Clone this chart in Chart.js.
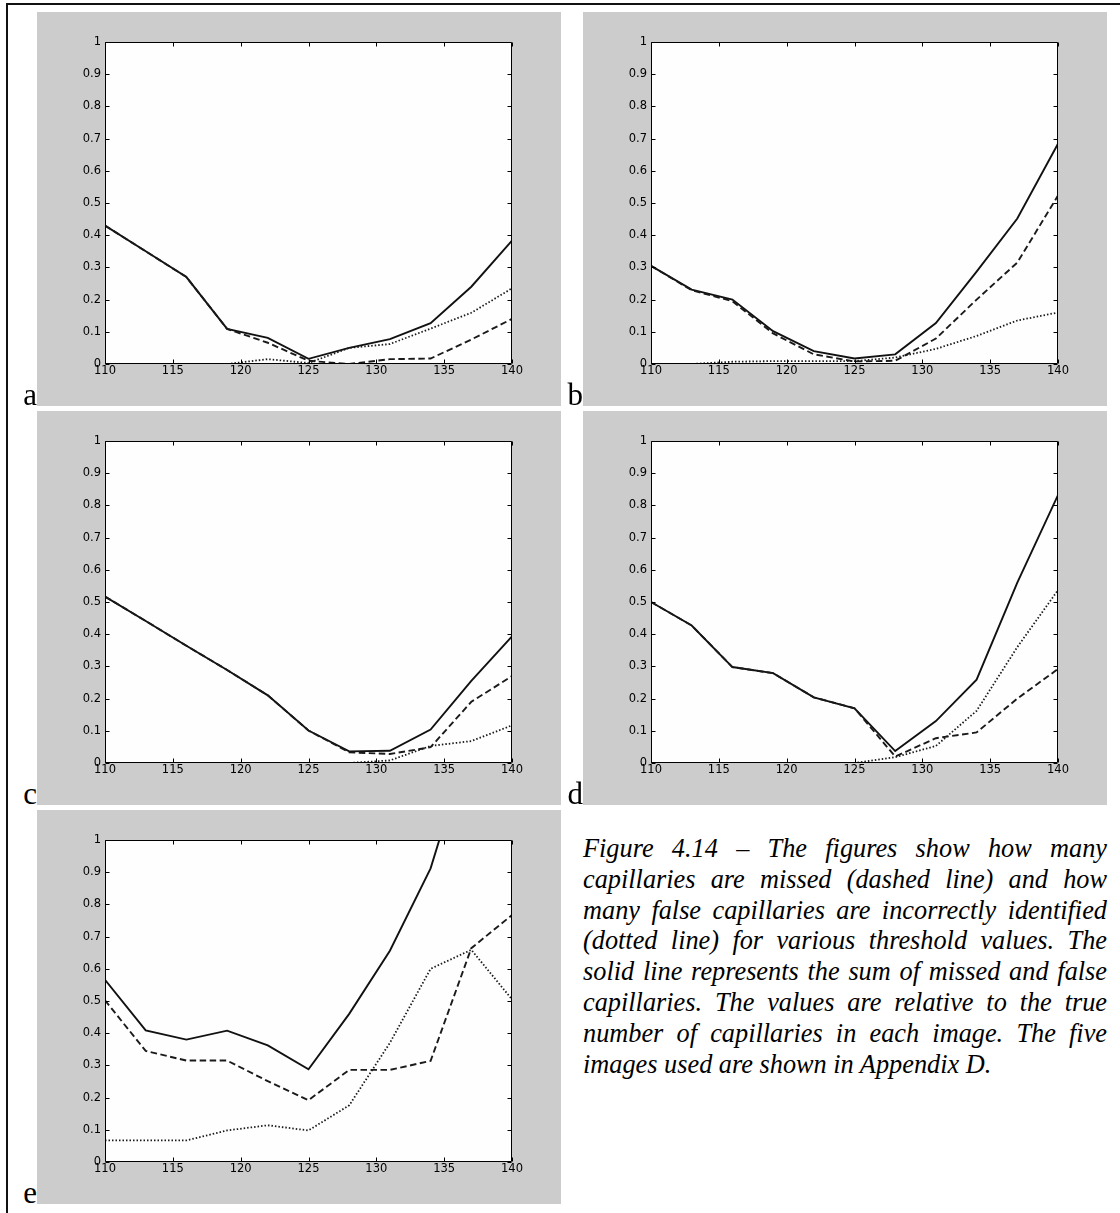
<!DOCTYPE html>
<html>
<head>
<meta charset="utf-8">
<script src="https://cdn.jsdelivr.net/npm/chart.js@4.4.1/dist/chart.umd.min.js"></script>
<style>
  html, body { margin:0; padding:0; background:#fff; }
  body { width:1120px; height:1213px; position:relative; overflow:hidden; }
  .frame { position:absolute; left:6px; top:3px; width:1200px; height:1300px; border-top:2px solid #111; border-left:2px solid #111; }
  .panel { position:absolute; width:524px; height:394px; background:#cccccc; }
  .panel canvas { position:absolute; left:0; top:0; }
  .letter { position:absolute; font-family:'Liberation Serif','Times New Roman',serif; font-size:31px; line-height:31px; color:#000; text-align:right; width:30px; }
  .caption { position:absolute; left:583px; top:834px; width:524px; font-family:'Liberation Serif','Times New Roman',serif; font-style:italic; font-size:26.3px; line-height:30.8px; color:#000; }
  .caption div { text-align:justify; text-align-last:justify; white-space:nowrap; }
  .caption div.last { text-align:left; text-align-last:left; }
</style>
</head>
<body>
<div class="frame"></div>
<div class="panel" id="pa" style="left:37px;top:12px;"><canvas id="ca" width="524" height="394"></canvas></div>
<div class="panel" id="pb" style="left:583px;top:12px;"><canvas id="cb" width="524" height="394"></canvas></div>
<div class="panel" id="pc" style="left:37px;top:411px;"><canvas id="cc" width="524" height="394"></canvas></div>
<div class="panel" id="pd" style="left:583px;top:411px;"><canvas id="cd" width="524" height="394"></canvas></div>
<div class="panel" id="pe" style="left:37px;top:810px;"><canvas id="ce" width="524" height="394"></canvas></div>

<div class="letter" style="left:7px;top:379px;">a</div>
<div class="letter" style="left:553px;top:379px;">b</div>
<div class="letter" style="left:7px;top:778px;">c</div>
<div class="letter" style="left:553px;top:778px;">d</div>
<div class="letter" style="left:7px;top:1177px;">e</div>

<div class="caption">
  <div>Figure 4.14 – The figures show how many</div>
  <div>capillaries are missed (dashed line) and how</div>
  <div>many false capillaries are incorrectly identified</div>
  <div>(dotted line) for various threshold values. The</div>
  <div>solid line represents the sum of missed and false</div>
  <div>capillaries. The values are relative to the true</div>
  <div>number of capillaries in each image. The five</div>
  <div class="last">images used are shown in Appendix D.</div>
</div>

<script>
// ---- data ----
const thresholds = [110, 113, 116, 119, 122, 125, 128, 131, 134, 137, 140];
const xTickValues = [110, 115, 120, 125, 130, 135, 140];
const yTickValues = [0, 0.1, 0.2, 0.3, 0.4, 0.5, 0.6, 0.7, 0.8, 0.9, 1];
const yTickLabels = ['0', '0.1', '0.2', '0.3', '0.4', '0.5', '0.6', '0.7', '0.8', '0.9', '1'];
const xTickLabels = ['110', '115', '120', '125', '130', '135', '140'];

// panel a
const aMissed = [0.43, 0.35, 0.27, 0.109, 0.066, 0.010, 0.000, 0.015, 0.017, 0.076, 0.140];
const aFalse  = [0.00, 0.00, 0.00, 0.000, 0.015, 0.003, 0.050, 0.062, 0.110, 0.159, 0.235];
const aSum    = [0.43, 0.35, 0.27, 0.109, 0.081, 0.016, 0.050, 0.077, 0.127, 0.240, 0.383];
// panel b
const bMissed = [0.305, 0.229, 0.195, 0.095, 0.030, 0.008, 0.010, 0.079, 0.200, 0.315, 0.523];
const bFalse  = [0.000, 0.000, 0.007, 0.009, 0.009, 0.009, 0.020, 0.047, 0.087, 0.135, 0.160];
const bSum    = [0.305, 0.231, 0.200, 0.102, 0.040, 0.017, 0.030, 0.127, 0.287, 0.452, 0.684];
// panel c
const cMissed = [0.517, 0.441, 0.364, 0.289, 0.210, 0.101, 0.033, 0.028, 0.049, 0.190, 0.270];
const cFalse  = [0.000, 0.000, 0.000, 0.000, 0.000, 0.000, 0.000, 0.008, 0.053, 0.068, 0.117];
const cSum    = [0.517, 0.441, 0.364, 0.289, 0.210, 0.101, 0.036, 0.038, 0.104, 0.255, 0.393];
// panel d
const dMissed = [0.500, 0.427, 0.298, 0.279, 0.204, 0.170, 0.020, 0.077, 0.095, 0.200, 0.292];
const dFalse  = [0.000, 0.000, 0.000, 0.000, 0.000, 0.000, 0.018, 0.053, 0.162, 0.360, 0.537];
const dSum    = [0.500, 0.427, 0.298, 0.279, 0.204, 0.170, 0.037, 0.130, 0.259, 0.560, 0.832];
// panel e
const eMissed = [0.502, 0.345, 0.315, 0.315, 0.251, 0.192, 0.286, 0.286, 0.314, 0.664, 0.767];
const eFalse  = [0.067, 0.067, 0.067, 0.098, 0.114, 0.098, 0.176, 0.370, 0.600, 0.659, 0.505];
const eSum    = [0.566, 0.409, 0.380, 0.408, 0.362, 0.288, 0.460, 0.656, 0.912, 1.323, 1.272];

// ---- drawing ----
const axesPlugin = {
  id: 'matlabAxes',
  beforeDatasetsDraw(chart) {
    const { ctx, chartArea: a } = chart;
    ctx.save();
    ctx.fillStyle = '#fefefe';
    ctx.fillRect(a.left, a.top, a.right - a.left, a.bottom - a.top);
    ctx.restore();
  },
  afterDatasetsDraw(chart) {
    const { ctx, chartArea: a, scales } = chart;
    const L = Math.round(a.left) + 0.5, R = Math.round(a.right) - 0.5;
    const T = Math.round(a.top) + 0.5, B = Math.round(a.bottom) - 0.5;
    ctx.save();
    ctx.strokeStyle = '#000';
    ctx.lineWidth = 1;
    ctx.beginPath();
    ctx.rect(L, T, R - L, B - T);
    const tl = 4;
    xTickValues.forEach(v => {
      const x = Math.round(scales.x.getPixelForValue(v)) + 0.5;
      ctx.moveTo(x, B); ctx.lineTo(x, B - tl);
      ctx.moveTo(x, T); ctx.lineTo(x, T + tl);
    });
    yTickValues.forEach(v => {
      const y = Math.round(scales.y.getPixelForValue(v)) + 0.5;
      ctx.moveTo(L, y); ctx.lineTo(L + tl, y);
      ctx.moveTo(R, y); ctx.lineTo(R - tl, y);
    });
    ctx.stroke();
    ctx.restore();
  }
};

function pts(vals) { return thresholds.map((t, i) => ({ x: t, y: vals[i] })); }

function makeChart(id, missed, falses, sums) {
  const tickFont = { family: "'DejaVu Sans', sans-serif", size: 11.5 };
  new Chart(document.getElementById(id), {
    type: 'line',
    data: {
      datasets: [
        { label: 'false', data: pts(falses), borderColor: '#1a1a1a', borderWidth: 1.8, borderDash: [1.5, 2], pointRadius: 0, tension: 0, fill: false },
        { label: 'missed', data: pts(missed), borderColor: '#1a1a1a', borderWidth: 1.9, borderDash: [6.5, 3.5], pointRadius: 0, tension: 0, fill: false },
        { label: 'sum', data: pts(sums), borderColor: '#111', borderWidth: 1.9, pointRadius: 0, tension: 0, fill: false }
      ]
    },
    options: {
      responsive: false,
      devicePixelRatio: 1,
      animation: false,
      events: [],
      layout: { padding: { top: 30, right: 49, left: 0, bottom: 0 } },
      plugins: { legend: { display: false }, tooltip: { enabled: false }, title: { display: false } },
      scales: {
        x: {
          type: 'linear', min: 110, max: 140,
          afterBuildTicks: s => { s.ticks = xTickValues.map(v => ({ value: v })); },
          afterFit: s => { s.height = 42; },
          grid: { display: false, drawTicks: false },
          border: { display: false },
          ticks: { font: tickFont, color: '#000', padding: 0, maxRotation: 0, autoSkip: false,
                   callback: (v) => xTickLabels[xTickValues.indexOf(v)] }
        },
        y: {
          type: 'linear', min: 0, max: 1,
          afterBuildTicks: s => { s.ticks = yTickValues.map(v => ({ value: v })); },
          afterFit: s => { s.width = 68; },
          grid: { display: false, drawTicks: false },
          border: { display: false },
          ticks: { font: tickFont, color: '#000', padding: 4, autoSkip: false,
                   callback: (v) => yTickLabels[yTickValues.indexOf(v)] }
        }
      }
    },
    plugins: [axesPlugin]
  });
}

makeChart('ca', aMissed, aFalse, aSum);
makeChart('cb', bMissed, bFalse, bSum);
makeChart('cc', cMissed, cFalse, cSum);
makeChart('cd', dMissed, dFalse, dSum);
makeChart('ce', eMissed, eFalse, eSum);
</script>
</body>
</html>
